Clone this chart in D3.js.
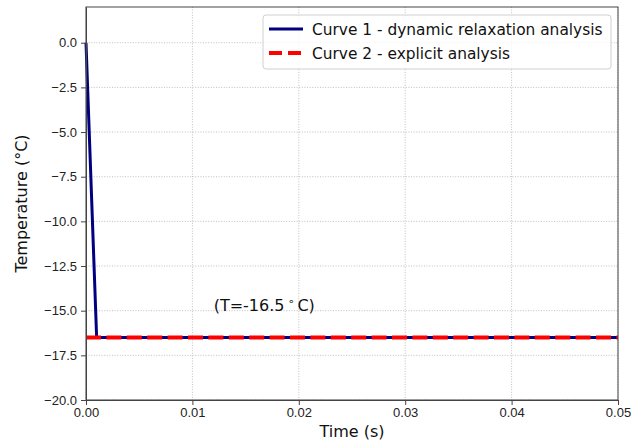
<!DOCTYPE html>
<html lang="en">
<head>
<meta charset="utf-8">
<title>Temperature vs time</title>
<script src="https://d3js.org/d3.v7.min.js"></script>
<style>
  body { margin: 0; background: white; }
  svg { font-family: "DejaVu Sans", sans-serif; }
  .grid line { stroke: #b0b0b0; stroke-dasharray: 1,1.6; stroke-width: 0.8; }
  .axis path, .axis line { stroke: #444; }
  .axis text { fill: #222; font-size: 13px; }
</style>
</head>
<body>
<script>
  // curve 1 - dynamic relaxation
  let curve1Time = [0, 0.001, 0.05]
  let curve1Temp = [0, -16.5, -16.5]
  // curve 2 - explicit
  let curve2Time = [0, 0.05]
  let curve2Temp = [-16.5, -16.5]

  let xTicks = [0, 0.01, 0.02, 0.03, 0.04, 0.05]
  let yTicks = [0, -2.5, -5, -7.5, -10, -12.5, -15, -17.5, -20]
  let seriesNames = ["Curve 1 - dynamic relaxation analysis", "Curve 2 - explicit analysis"]

  let width = 631
  let height = 444
  let padLeft = 86, padRight = 618, padTop = 7, padBottom = 400

  let svg = d3.select("body").append("svg")
      .attr("width", width)
      .attr("height", height)

  let xScale = d3.scaleLinear().domain([0, 0.05]).range([padLeft, padRight])
  let yScale = d3.scaleLinear().domain([-20, 2]).range([padBottom, padTop])

  // grid
  svg.append("g").attr("class", "grid")
     .selectAll("line").data(xTicks).enter().append("line")
     .attr("x1", d => xScale(d)).attr("x2", d => xScale(d))
     .attr("y1", padTop).attr("y2", padBottom)
  svg.append("g").attr("class", "grid")
     .selectAll("line").data(yTicks).enter().append("line")
     .attr("x1", padLeft).attr("x2", padRight)
     .attr("y1", d => yScale(d)).attr("y2", d => yScale(d))

  let line = d3.line().x(d => xScale(d[0])).y(d => yScale(d[1]))

  svg.append("path")
     .datum(d3.zip(curve1Time, curve1Temp))
     .attr("d", line)
     .attr("fill", "none")
     .attr("stroke", "#000080")
     .attr("stroke-width", 3)

  svg.append("path")
     .datum(d3.zip(curve2Time, curve2Temp))
     .attr("d", line)
     .attr("fill", "none")
     .attr("stroke", "red")
     .attr("stroke-width", 4)
     .attr("stroke-dasharray", "15,5.4")

  // annotation
  let note = svg.append("text")
     .attr("x", xScale(0.012))
     .attr("y", yScale(-15))
     .attr("font-size", 16)
     .attr("fill", "#111")
  note.append("tspan").text("(T=-16.5")
  note.append("tspan").text("\u2218").attr("dy", -6).attr("dx", 3).attr("font-size", 11)
  note.append("tspan").text("C)").attr("dy", 6).attr("dx", 3)

  // axes
  svg.append("g").attr("class", "axis")
     .attr("transform", `translate(0,${padBottom})`)
     .call(d3.axisBottom(xScale).tickValues(xTicks).tickFormat(d3.format(".2f")).tickSize(5).tickPadding(3).tickSizeOuter(0))
  svg.append("g").attr("class", "axis")
     .attr("transform", `translate(${padLeft},0)`)
     .call(d3.axisLeft(yScale).tickValues(yTicks).tickFormat(d3.format(".1f")).tickSize(5).tickPadding(4).tickSizeOuter(0))

  // frame
  svg.append("rect")
     .attr("x", padLeft).attr("y", padTop)
     .attr("width", padRight - padLeft).attr("height", padBottom - padTop)
     .attr("fill", "none").attr("stroke", "#444")

  svg.append("text")
     .attr("x", (padLeft + padRight) / 2).attr("y", 437)
     .attr("text-anchor", "middle").attr("font-size", 16).attr("fill", "#111")
     .text("Time (s)")
  svg.append("text")
     .attr("transform", `translate(27,${(padTop + padBottom) / 2}) rotate(-90)`)
     .attr("text-anchor", "middle").attr("font-size", 16).attr("fill", "#111")
     .text("Temperature (\u00b0C)")

  // legend
  let legend = svg.append("g").attr("transform", "translate(263,15)")
  legend.append("rect")
     .attr("width", 348).attr("height", 54).attr("rx", 3)
     .attr("fill", "white").attr("fill-opacity", 0.8)
     .attr("stroke", "#d0d0d0")
  let legendColors = ["#000080", "red"]
  let legendDash = [null, "13,6"]
  seriesNames.forEach((name, i) => {
    legend.append("line")
       .attr("x1", 6).attr("x2", 40)
       .attr("y1", 14 + i * 24).attr("y2", 14 + i * 24)
       .attr("stroke", legendColors[i])
       .attr("stroke-width", i == 0 ? 3 : 4)
       .attr("stroke-dasharray", legendDash[i])
    legend.append("text")
       .attr("x", 49).attr("y", 19.5 + i * 24)
       .attr("font-size", 15.4).attr("fill", "#111")
       .text(name)
  })
</script>
</body>
</html>
